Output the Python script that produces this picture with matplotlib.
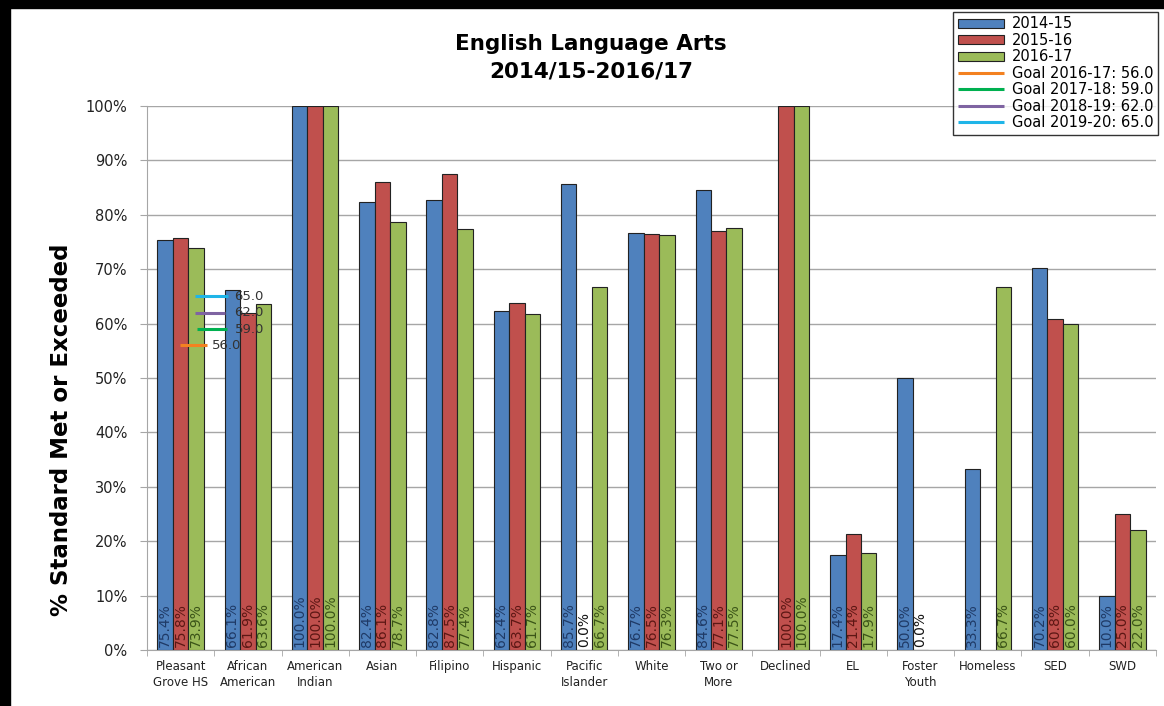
import matplotlib.pyplot as plt
import matplotlib.patches as mpatches
import numpy as np

# data (None = no bar)
groups = ["Pleasant\nGrove HS", "African\nAmerican", "American\nIndian", "Asian",
          "Filipino", "Hispanic", "Pacific\nIslander", "White", "Two or\nMore",
          "Declined", "EL", "Foster\nYouth", "Homeless", "SED", "SWD"]
y2014 = [75.4, 66.1, 100.0, 82.4, 82.8, 62.4, 85.7, 76.7, 84.6, None, 17.4, 50.0, 33.3, 70.2, 10.0]
y2015 = [75.8, 61.9, 100.0, 86.1, 87.5, 63.7, 0.0, 76.5, 77.1, 100.0, 21.4, 0.0, None, 60.8, 25.0]
y2016 = [73.9, 63.6, 100.0, 78.7, 77.4, 61.7, 66.7, 76.3, 77.5, 100.0, 17.9, None, 66.7, 60.0, 22.0]
series_names = ["2014-15", "2015-16", "2016-17"]

goal_names = ["Goal 2016-17: 56.0", "Goal 2017-18: 59.0", "Goal 2018-19: 62.0", "Goal 2019-20: 65.0"]
goal_values = [56.0, 59.0, 62.0, 65.0]

bar_colors = ["#4f81bd", "#c0504d", "#9bbb59"]
label_colors = ["#1f3a66", "#5c1714", "#3b5418"]
goal_colors = ["#f38120", "#00b050", "#7f64a2", "#1fb5e8"]
# short goal markers drawn next to the first groups: (x0, x1, text x)
goal_spans = [(-0.01, 0.39, 0.47), (0.24, 0.69, 0.80), (0.21, 0.66, 0.80), (0.21, 0.70, 0.80)]

fig = plt.figure(figsize=(11.64, 7.06), dpi=100)
ax = fig.add_axes([0.1263, 0.0793, 0.8668, 0.7706])

x = np.arange(len(groups))
w = 0.23
bar_handles = []
for k, vals in enumerate([y2014, y2015, y2016]):
    pos = [xi + (k - 1) * w for xi, v in zip(x, vals) if v is not None]
    hts = [v for v in vals if v is not None]
    b = ax.bar(pos, hts, width=w, color=bar_colors[k], edgecolor="#222222",
               linewidth=0.8, zorder=3, label=series_names[k])
    bar_handles.append(b)
    for p, h in zip(pos, hts):
        ax.text(p, 0.6, f"{h:.1f}%", rotation=90, ha="center", va="bottom",
                fontsize=10, color=label_colors[k] if h > 0 else "#111111", zorder=4)

goal_handles = []
for (x0, x1, tx), g, c, name in zip(goal_spans, goal_values, goal_colors, goal_names):
    ln, = ax.plot([x0, x1], [g, g], color=c, linewidth=2.2, zorder=5, label=name,
                  solid_capstyle="butt")
    goal_handles.append(ln)
    ax.text(tx, g, f"{g:.1f}", ha="left", va="center", fontsize=9.5,
            color="#333333", zorder=6)

ax.set_xlim(-0.5, len(groups) - 0.5)
ax.set_ylim(0, 100)
ax.set_yticks(np.arange(0, 101, 10))
ax.set_yticklabels([f"{v}%" for v in range(0, 101, 10)], fontsize=10.5, color="#222222")
ax.yaxis.grid(True, color="#a6a6a6", linewidth=1.0, zorder=0)
ax.set_axisbelow(True)
ax.tick_params(axis="y", length=5, color="#a6a6a6", pad=9)

ax.set_xticks(x)
ax.set_xticklabels(groups, fontsize=8.5, color="#222222", linespacing=1.35)
ax.set_xticks(np.arange(-0.5, len(groups)), minor=True)
ax.tick_params(axis="x", which="major", length=0, pad=7)
ax.tick_params(axis="x", which="minor", length=4, color="#a6a6a6")

for s in ["top", "right"]:
    ax.spines[s].set_visible(False)
for s in ["left", "bottom"]:
    ax.spines[s].set_color("#a6a6a6")

ax.set_ylabel("% Standard Met or Exceeded", fontsize=16.5, fontweight="bold")
ax.yaxis.set_label_coords(-0.073, 0.404)

fig.text(0.508, 0.952, "English Language Arts\n2014/15-2016/17", ha="center", va="top",
         fontsize=15.5, fontweight="bold", linespacing=1.45)

leg = fig.legend(bar_handles + goal_handles, series_names + goal_names,
                 loc="upper right", bbox_to_anchor=(0.9945, 0.983),
                 fontsize=10.5, frameon=True, fancybox=False, edgecolor="black",
                 labelspacing=0.1, handlelength=3.2, handleheight=0.6,
                 handletextpad=0.5, borderpad=0.3, borderaxespad=0)
leg.get_frame().set_linewidth(1.0)

# black border at top and left of the picture
fig.patches.append(mpatches.Rectangle((0, 0), 10 / 1164, 1, transform=fig.transFigure,
                                      color="black", zorder=10))
fig.patches.append(mpatches.Rectangle((0, 1 - 8 / 706), 1, 8 / 706, transform=fig.transFigure,
                                      color="black", zorder=10))

fig.savefig("out.png", dpi=100)
